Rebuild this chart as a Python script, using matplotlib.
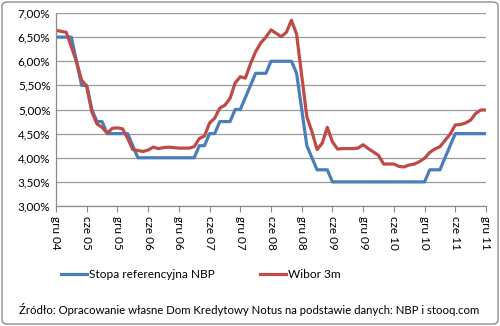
import matplotlib
matplotlib.use('Agg')
import matplotlib.pyplot as plt
from matplotlib.patches import FancyBboxPatch
from matplotlib.ticker import FuncFormatter
import numpy as np

# monthly values, Dec 2004 .. Dec 2011
nbp_rate = [6.50, 6.50, 6.50, 6.50, 6.00, 5.50, 5.50, 5.00, 4.75, 4.75,
            4.50, 4.50, 4.50, 4.50, 4.50, 4.25, 4.00, 4.00, 4.00, 4.00,
            4.00, 4.00, 4.00, 4.00, 4.00, 4.00, 4.00, 4.00, 4.25, 4.25,
            4.50, 4.50, 4.75, 4.75, 4.75, 5.00, 5.00, 5.25, 5.50, 5.75,
            5.75, 5.75, 6.00, 6.00, 6.00, 6.00, 6.00, 5.75, 5.00, 4.25,
            4.00, 3.75, 3.75, 3.75, 3.50, 3.50, 3.50, 3.50, 3.50, 3.50,
            3.50, 3.50, 3.50, 3.50, 3.50, 3.50, 3.50, 3.50, 3.50, 3.50,
            3.50, 3.50, 3.50, 3.75, 3.75, 3.75, 4.00, 4.25, 4.50, 4.50,
            4.50, 4.50, 4.50, 4.50, 4.50]
wibor_3m = [6.64, 6.62, 6.60, 6.30, 5.99, 5.61, 5.48, 4.95, 4.70, 4.63,
            4.51, 4.61, 4.62, 4.60, 4.40, 4.17, 4.15, 4.13, 4.16, 4.22,
            4.19, 4.21, 4.22, 4.21, 4.20, 4.20, 4.20, 4.23, 4.40, 4.45,
            4.72, 4.82, 5.03, 5.09, 5.23, 5.55, 5.68, 5.65, 5.95, 6.20,
            6.38, 6.50, 6.65, 6.58, 6.51, 6.60, 6.85, 6.56, 5.70, 4.85,
            4.54, 4.17, 4.30, 4.63, 4.33, 4.18, 4.19, 4.19, 4.19, 4.20,
            4.27, 4.19, 4.12, 4.05, 3.87, 3.87, 3.87, 3.82, 3.81, 3.85,
            3.87, 3.92, 3.99, 4.11, 4.18, 4.23, 4.36, 4.49, 4.68, 4.69,
            4.72, 4.78, 4.92, 4.99, 4.99]
tick_labels = ['gru 04', 'cze 05', 'gru 05', 'cze 06', 'gru 06', 'cze 07',
               'gru 07', 'cze 08', 'gru 08', 'cze 09', 'gru 09', 'cze 10',
               'gru 10', 'cze 11', 'gru 11']

plt.rcParams['font.family'] = ['Lato', 'DejaVu Sans']

months = np.arange(len(wibor_3m))

fig = plt.figure(figsize=(5, 3.26), dpi=100)
ax = fig.add_axes([56 / 500, 1 - 206 / 326, 430 / 500, 193 / 326])

ax.plot(months, nbp_rate, color='#4a7ebb', lw=2.3, label='Stopa referencyjna NBP',
        solid_joinstyle='round')
ax.plot(months, wibor_3m, color='#be4b48', lw=2.3, label='Wibor 3m',
        solid_joinstyle='round')

ax.set_xlim(0, len(wibor_3m) - 1)
ax.set_ylim(3, 7)
ax.set_yticks(np.arange(3, 7.01, 0.5))
ax.yaxis.set_major_formatter(FuncFormatter(lambda v, p: f'{v:.2f}%'.replace('.', ',')))
ax.set_xticks(np.arange(0, len(wibor_3m), 6))
ax.set_xticklabels(tick_labels, rotation=270, va='top', ha='center')

ax.grid(axis='y', color='#9a9a9a', lw=0.9)
ax.set_axisbelow(True)
for s in ['top', 'right']:
    ax.spines[s].set_visible(False)
for s in ['left', 'bottom']:
    ax.spines[s].set_color('#8c8c8c')
    ax.spines[s].set_linewidth(0.9)
ax.tick_params(axis='x', length=4, color='#8c8c8c', labelsize=8.5, pad=3)
ax.tick_params(axis='y', length=0, labelsize=8.5, pad=4)

fig.legend(loc='center left', bbox_to_anchor=(50 / 500, 1 - 275 / 326), ncol=2,
           frameon=False, fontsize=8.6, handlelength=2.2, handletextpad=0.15,
           columnspacing=3.8)

fig.text(0.498, 1 - 310 / 326,
         'Źródło: Opracowanie własne Dom Kredytowy Notus na podstawie danych: NBP i stooq.com',
         ha='center', va='center', fontsize=8.2)

# outer rounded frame
frame = FancyBboxPatch((0.004, 0.006), 0.992, 0.988, boxstyle='round,pad=0,rounding_size=0.012',
                       transform=fig.transFigure, fill=False, ec='#8c8c8c', lw=1.0)
fig.patches.append(frame)

plt.savefig('out.png', dpi=100)
plt.close()
